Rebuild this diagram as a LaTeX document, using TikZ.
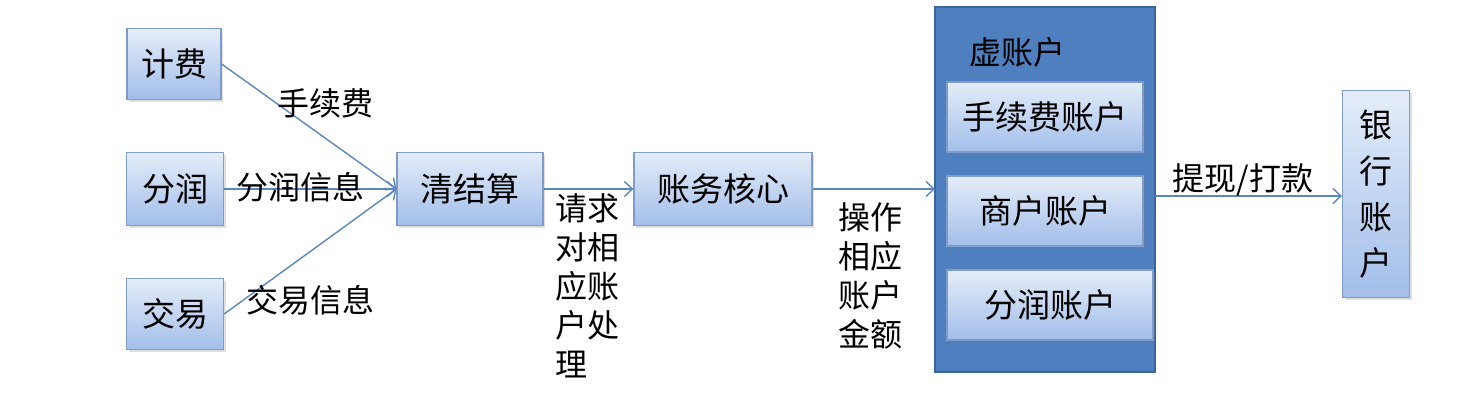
\documentclass[tikz,border=0pt]{standalone}
\usepackage{fontspec}
\setmainfont{Noto Sans CJK SC}
\usetikzlibrary{arrows.meta,shadows}
\definecolor{boxtop}{HTML}{E4EDF9}
\definecolor{boxbot}{HTML}{A2BEEA}
\definecolor{boxline}{HTML}{7F9BC8}
\definecolor{flow}{HTML}{5B86BF}
\definecolor{vblue}{HTML}{4F7FBE}
\definecolor{vline}{HTML}{3A64A0}
\tikzset{
	blok/.style={draw=boxline, line width=1.2pt, top color=boxtop, bottom color=boxbot,
		inner sep=0pt, font=\fontsize{33}{40}\selectfont,
		drop shadow={opacity=0.25, shadow xshift=2pt, shadow yshift=-2pt}},
	flowarrow/.style={draw=flow, line width=1.4pt, -{Straight Barb[length=8pt,width=15pt]}},
	txt/.style={inner sep=0pt, font=\fontsize{32}{38}\selectfont, align=left},
}

\begin{document}
\begin{tikzpicture}[x=1pt, y=-1pt]
		%%%%% START %%%%%
		\useasboundingbox (0, 0) rectangle (1460, 418);
		
		\node[blok, minimum width=94pt, minimum height=71pt] (jifei) at (174, 64) {计费};
		\node[blok, minimum width=97pt, minimum height=73pt] (fenrun) at (175, 189) {分润};
		\node[blok, minimum width=97pt, minimum height=71pt] (jiaoyi) at (175, 314) {交易};
		
		\node[blok, minimum width=146pt, minimum height=73pt] (qingjs) at (470, 189) {清结算};
		\node[blok, minimum width=178pt, minimum height=73pt] (hexin) at (723, 189) {账务核心};
		
		\draw[fill=vblue, draw=vline, line width=2pt] (935, 7) rectangle (1155, 372);
		\coordinate (xuL) at (935, 189);
		\coordinate (xuR) at (1155, 196);
		\node[txt, anchor=center] (xulbl) at (1017, 52) {虚账户};
		\node[blok, minimum width=196pt, minimum height=70pt] (sxf) at (1045, 117) {手续费账户};
		\node[blok, minimum width=196pt, minimum height=70pt] (shanghu) at (1045, 211) {商户账户};
		\node[blok, minimum width=206pt, minimum height=70pt] (fenzh) at (1050, 305) {分润账户};
		
		\node[blok, minimum width=67pt, minimum height=207pt, align=center,
			font=\fontsize{33}{46}\selectfont] (yinhang) at (1376, 194) {银\\行\\账\\户};
		
		\draw[flowarrow] (jifei.east) -- (qingjs.west);
		\draw[flowarrow] (fenrun.east) -- (qingjs.west);
		\draw[flowarrow] (jiaoyi.east) -- (qingjs.west);
		\draw[flowarrow] (qingjs.east) -- (hexin.west);
		\draw[flowarrow] (hexin.east) -- (xuL);
		\draw[flowarrow] (xuR) -- (xuR -| yinhang.west);
		
		\node[txt] (lbsxf) at (325, 103) {手续费};
		\node[txt] (lbfr) at (300, 187) {分润信息};
		\node[txt] (lbjy) at (310, 300) {交易信息};
		\node[txt, anchor=north west, font=\fontsize{32}{39}\selectfont] (lbqq) at (555, 193)
			{请求\\对相\\应账\\户处\\理};
		\node[txt, anchor=north west, font=\fontsize{32}{39}\selectfont] (lbcz) at (838, 202)
			{操作\\相应\\账户\\金额};
		\node[txt] (lbtx) at (1243, 180) {提现/打款};
		
		%%%%% END %%%%%
	\end{tikzpicture}
\end{document}
